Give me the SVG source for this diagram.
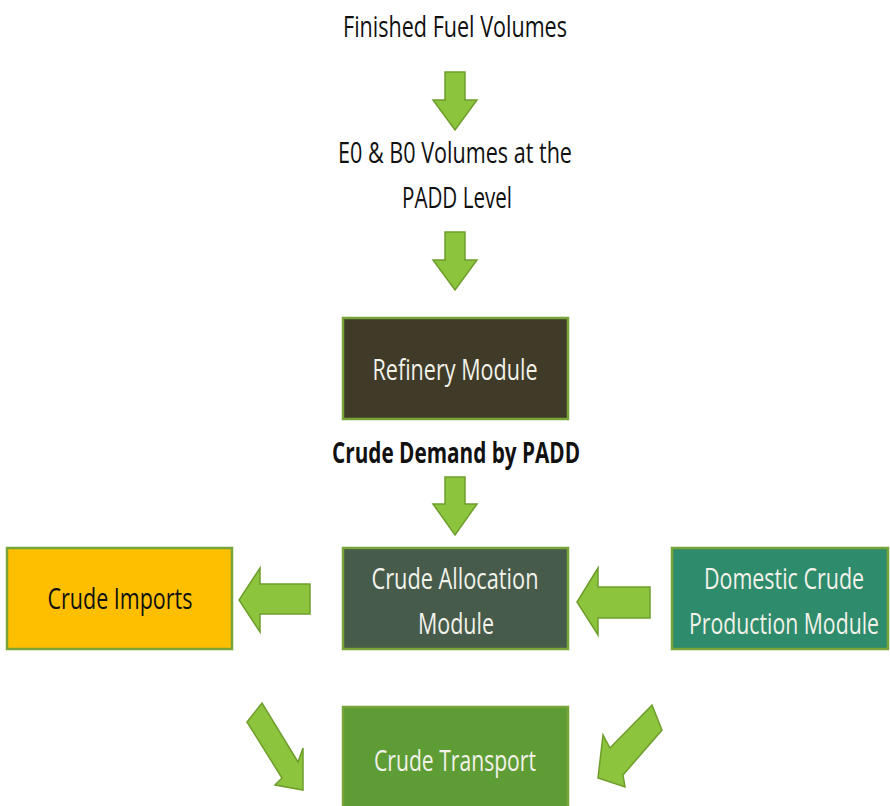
<svg xmlns="http://www.w3.org/2000/svg" width="890" height="806" viewBox="0 0 890 806">
<style>
.t{font-family:"Open Sans","Liberation Sans",sans-serif;font-size:29px;text-anchor:middle}
.b{font-weight:bold}
.lt{fill:#f2f2ea}
.dk{fill:#111}
.box{stroke:#78a53a;stroke-width:2.5}
.arr{fill:#8cc43e;stroke:#6f9d2c;stroke-width:1.5;stroke-linejoin:miter}
</style>
<rect width="890" height="806" fill="#fff"/>
<g id="finished-fuel">
<text class="t dk" x="455" y="37" textLength="224" lengthAdjust="spacingAndGlyphs">Finished Fuel Volumes</text>
</g>
<g id="e0-b0">
<text class="t dk" x="455" y="163" textLength="234" lengthAdjust="spacingAndGlyphs">E0 &amp; B0 Volumes at the</text>
<text class="t dk" x="457" y="208" textLength="110" lengthAdjust="spacingAndGlyphs">PADD Level</text>
</g>
<g id="refinery">
<rect class="box" x="343" y="318" width="225" height="101" fill="#3f3b28"/>
<text class="t lt" x="455" y="380" textLength="165" lengthAdjust="spacingAndGlyphs">Refinery Module</text>
</g>
<g id="crude-demand">
<text class="t b dk" x="456" y="463" font-size="27" textLength="248" lengthAdjust="spacingAndGlyphs">Crude Demand by PADD</text>
</g>
<g id="crude-imports">
<rect class="box" x="7" y="548" width="225" height="101" fill="#fdbf00"/>
<text class="t dk" x="120" y="609" textLength="145" lengthAdjust="spacingAndGlyphs">Crude Imports</text>
</g>
<g id="crude-allocation">
<rect class="box" x="343" y="548" width="225" height="101" fill="#465b4a"/>
<text class="t lt" x="455" y="589" textLength="167" lengthAdjust="spacingAndGlyphs">Crude Allocation</text>
<text class="t lt" x="456" y="634" textLength="76" lengthAdjust="spacingAndGlyphs">Module</text>
</g>
<g id="domestic-crude">
<rect class="box" x="672" y="548" width="216" height="101" fill="#2e8b6b"/>
<g transform="translate(784,0) scale(0.745,1)">
<text class="t lt" x="0" y="589" textLength="215" lengthAdjust="spacingAndGlyphs">Domestic Crude</text>
<text class="t lt" x="0" y="634" textLength="255" lengthAdjust="spacingAndGlyphs">Production Module</text>
</g>
</g>
<g id="crude-transport">
<rect class="box" x="343" y="707" width="225" height="110" fill="#5e9c35"/>
<text class="t lt" x="455" y="771" textLength="162" lengthAdjust="spacingAndGlyphs">Crude Transport</text>
</g>
<g id="connectors">
<polygon class="arr" points="445,72 465,72 465,100 477,100 455,130 433,100 445,100"/>
<polygon class="arr" points="445,232 465,232 465,260 477,260 455,290 433,260 445,260"/>
<polygon class="arr" points="445,477 465,477 465,504 477,504 455,535 433,504 445,504"/>
<polygon class="arr" points="310,584 260,584 260,568 239,600 260,632 260,614 310,614"/>
<polygon class="arr" points="650,587 598,587 598,568 577,602 598,635 598,618 650,618"/>
<polygon class="arr" points="247,722 262,703 298,762 303,748 303,790 275,785 282,778"/>
<polygon class="arr" points="652,705 662,730 623,775 625,787 598,778 603,735 610,748"/>
</g>
</svg>
